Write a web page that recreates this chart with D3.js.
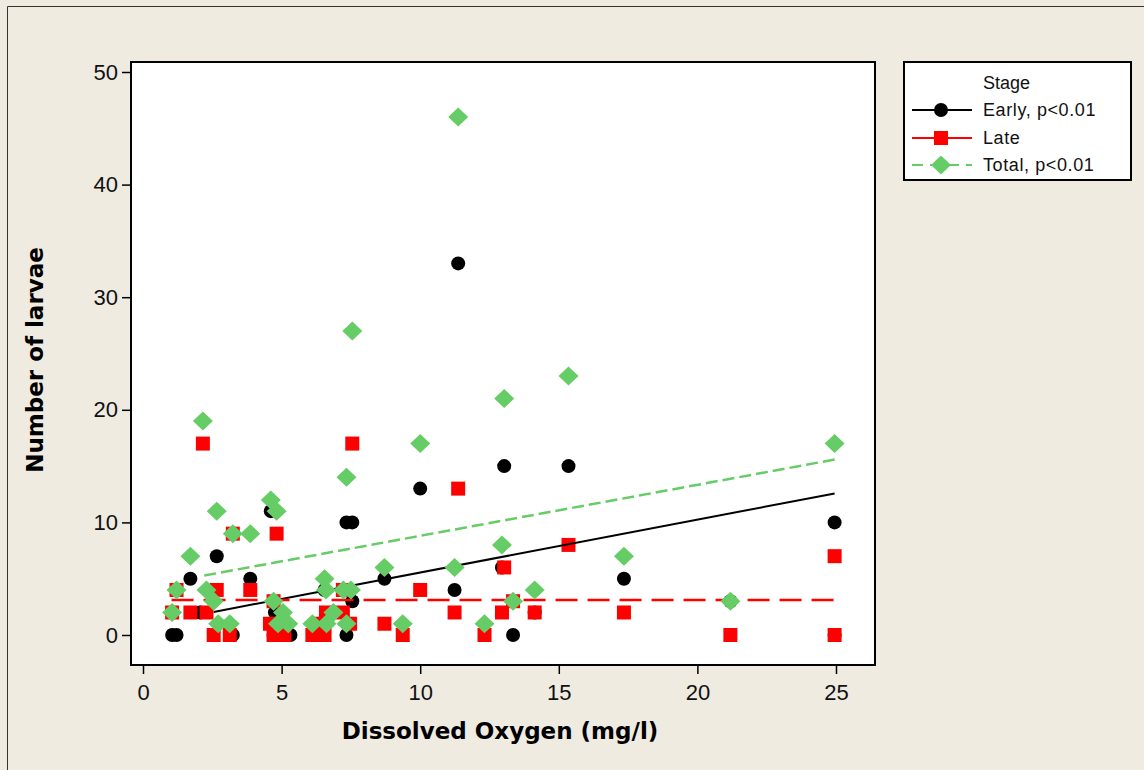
<!DOCTYPE html>
<html><head><meta charset="utf-8">
<script src="https://cdn.jsdelivr.net/npm/d3@7"></script>
<style>body{margin:0;background:#EFEBE1;} svg{display:block}</style>
</head><body><svg id="c" width="1144" height="770"></svg>
<script>
// ---- data (Dissolved Oxygen mg/l vs number of larvae) ----
const earlyDO  = [1.05,1.21,1.71,2.06,2.66,3.24,3.87,4.61,4.76,4.71,5.1,5.32,6.55,7.34,7.55,7.55,7.34,8.71,10.0,11.37,11.24,13.03,12.95,13.35,14.13,15.35,17.35,21.19,24.95,24.95];
const earlyVal = [0,   0,   5,   2,   7,   0,   5,   11,  2,   0,   0,  0,   4,   10,  10,  3,   0,   5,   13,  33,   4,    15,   6,    0,    2,    15,   5,    3,    10,   0];

const lateDO  = [1.05,1.21,1.71,2.16,2.29,2.66,2.55,3.13,3.24,3.87,4.58,4.71,4.82,4.71,5.1,5.0,6.11,6.4,6.55,6.4,6.6,7.21,7.21,7.55,7.47,8.71,9.37,10.0,11.24,11.37,12.32,12.95,13.03,13.35,14.13,15.35,17.35,21.19,24.95,24.95];
const lateVal = [2,   4,   2,   17,  2,   4,   0,   0,   9,   4,   1,   3,   9,   0,   0,  1,  0,   0,  0,   1,  2,  2,   4,   17,  1,   1,   0,   4,   2,    13,   0,    2,    6,    3,    2,    8,    2,    0,    7,    0];

const totalDO  = [1.05,1.21,1.71,2.16,2.29,2.55,2.66,2.71,3.13,3.24,3.87,4.61,4.82,4.71,4.87,5.05,5.24,6.11,6.55,6.6,6.62,6.87,7.34,7.55,7.23,7.5,7.34,8.71,9.37,10.0,11.24,11.37,12.32,12.95,13.03,13.35,14.13,15.35,17.35,21.19,24.95];
const totalVal = [2,   4,   7,   19,  4,   3,   11,  1,   1,   9,   9,   12,  11,  3,   1,   2,   1,   1,   5,   4,  1,   2,   14,  27,  4,   4,  1,   6,   1,   17,  6,    46,   1,    8,    21,   3,    4,    23,   7,    3,    17];

// fitted lines (endpoints, data units)
const earlyFitDO = [2.55, 24.95], earlyFitVal = [2.05, 12.57];
const lateFitDO  = [1.03, 24.95], lateFitVal  = [3.1, 3.1];
const totalFitDO = [2.21, 24.95], totalFitVal = [5.28, 15.58];

const xTicks = [0,5,10,15,20,25];
const yTicks = [0,10,20,30,40,50];
const legendTitle = "Stage";
const legendLabels = ["Early, p<0.01","Late","Total, p<0.01"];
const xTitle = "Dissolved Oxygen (mg/l)";
const yTitle = "Number of larvae";

// ---- drawing ----
const svg = d3.select("#c");
const GREEN = "#66CC66", RED = "#FF0000";
const frame = {l:131, t:62, r:875, b:665};
const x = d3.scaleLinear().domain([0,25]).range([143,836]);
const y = d3.scaleLinear().domain([0,50]).range([635,72]);

// outer border
svg.append("path").attr("d","M7.5,780V6.5H1150").attr("fill","none").attr("stroke","#333").attr("stroke-width",1);

// plot frame
svg.append("rect").attr("x",frame.l).attr("y",frame.t).attr("width",frame.r-frame.l).attr("height",frame.b-frame.t)
  .attr("fill","#fff").attr("stroke","#000").attr("stroke-width",2);

const tickFont = "'Liberation Sans', Arial, sans-serif";
const gy = svg.append("g").attr("transform",`translate(${frame.l},0)`)
  .call(d3.axisLeft(y).tickValues(yTicks).tickSize(9).tickPadding(4).tickFormat(d3.format("d")));
const gx = svg.append("g").attr("transform",`translate(0,${frame.b})`)
  .call(d3.axisBottom(x).tickValues(xTicks).tickSize(9).tickPadding(10).tickFormat(d3.format("d")));
[gx,gy].forEach(g=>{
  g.select(".domain").remove();
  g.selectAll("line").attr("stroke","#000").attr("stroke-width",1.5);
  g.selectAll("text").attr("fill","#111").style("font-family",tickFont).style("font-size","22px");
});

// titles
svg.append("text").attr("x",500).attr("y",739).attr("text-anchor","middle")
  .style("font-family","'DejaVu Sans', Verdana, sans-serif").style("font-weight","bold").style("font-size","23px")
  .text(xTitle);
svg.append("text").attr("transform","translate(43,360) rotate(-90)").attr("text-anchor","middle")
  .style("font-family","'DejaVu Sans', Verdana, sans-serif").style("font-weight","bold").style("font-size","23px")
  .text(yTitle);

const zip = (a,b)=>a.map((v,i)=>[v,b[i]]);
const plot = svg.append("g");

// markers
plot.selectAll("circle.e").data(zip(earlyDO,earlyVal)).join("circle")
  .attr("cx",d=>x(d[0])).attr("cy",d=>y(d[1])).attr("r",7).attr("fill","#000");
plot.selectAll("rect.l").data(zip(lateDO,lateVal)).join("rect")
  .attr("x",d=>x(d[0])-7).attr("y",d=>y(d[1])-7).attr("width",14).attr("height",14).attr("fill",RED);

// fit lines
const line = d3.line().x(d=>x(d[0])).y(d=>y(d[1]));
plot.append("path").attr("d",line(zip(earlyFitDO,earlyFitVal))).attr("stroke","#000").attr("stroke-width",2).attr("fill","none");
plot.append("path").attr("d",line(zip(lateFitDO,lateFitVal))).attr("stroke",RED).attr("stroke-width",2.5).attr("stroke-dasharray","22,10").attr("fill","none");
plot.append("path").attr("d",line(zip(totalFitDO,totalFitVal))).attr("stroke",GREEN).attr("stroke-width",2.5).attr("stroke-dasharray","12,5").attr("fill","none");

const diamond = (cx,cy)=>`M${cx-10},${cy}L${cx},${cy-9.5}L${cx+10},${cy}L${cx},${cy+9.5}Z`;
plot.selectAll("path.t").data(zip(totalDO,totalVal)).join("path")
  .attr("d",d=>diamond(x(d[0]),y(d[1]))).attr("fill",GREEN);

// legend
const lg = svg.append("g");
lg.append("rect").attr("x",904).attr("y",62).attr("width",227).attr("height",118)
  .attr("fill","#fff").attr("stroke","#000").attr("stroke-width",2);
const legFont = "'Liberation Sans', Arial, sans-serif";
lg.append("text").attr("x",983).attr("y",89).text(legendTitle)
  .style("font-family",legFont).style("font-size","18px").attr("fill","#111");
const rows = [110,138,165];
legendLabels.forEach((lab,i)=>{
  const cy = rows[i];
  const col = [ "#000", RED, GREEN ][i];
  lg.append("line").attr("x1",912).attr("x2",972).attr("y1",cy).attr("y2",cy)
    .attr("stroke",col).attr("stroke-width",2)
    .attr("stroke-dasharray", i===2 ? "11,7" : null);
  if(i===0) lg.append("circle").attr("cx",941).attr("cy",cy).attr("r",7).attr("fill","#000");
  if(i===1) lg.append("rect").attr("x",934).attr("y",cy-7).attr("width",14).attr("height",14).attr("fill",RED);
  if(i===2) lg.append("path").attr("d",diamond(941,cy)).attr("fill",GREEN);
  lg.append("text").attr("x",983).attr("y",cy+6).text(lab)
    .style("font-family",legFont).style("font-size","18px").style("letter-spacing","0.6px").attr("fill","#111");
});
</script></body></html>
